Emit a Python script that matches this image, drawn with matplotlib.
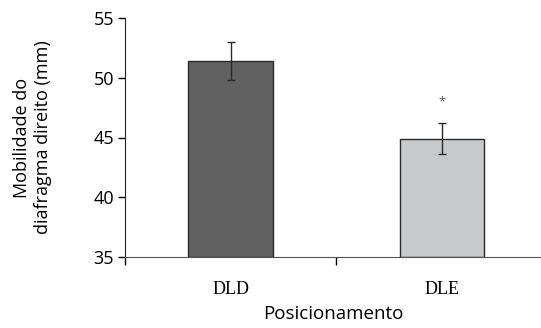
import matplotlib
matplotlib.use('Agg')
from matplotlib import pyplot as plt
import matplotlib.ticker as ticker

plt.rcParams['font.family'] = ['Open Sans', 'DejaVu Sans']

categories = ['DLD', 'DLE']
means = [51.4, 44.9]
errors = [1.6, 1.3]
bar_colors = ['#616161', '#c8c9ca']
star_y = 48.0

fig = plt.figure(figsize=(5.41, 3.28), dpi=100)
ax = fig.add_axes([125 / 541, 71 / 328, 1 - 125 / 541, 239 / 328])

x = list(range(len(categories)))
ax.bar(x, [m - 35 for m in means], bottom=35, width=0.4, color=bar_colors,
       edgecolor='#2a2a2a', linewidth=1.0, zorder=2)
ax.errorbar(x, means, yerr=errors, fmt='none', ecolor='#2a2a2a',
            elinewidth=1.0, capsize=2.8, capthick=1.0, zorder=3)
ax.text(1, star_y, '*', ha='center', va='center', fontsize=9, color='#555555')

ax.set_ylim(35, 55)
ax.set_xlim(-0.5, 1.47)
ax.yaxis.set_major_locator(ticker.MultipleLocator(5))
ax.tick_params(axis='y', direction='out', length=5, width=1, labelsize=13, pad=3)

# category boundary ticks, labels in between
ax.xaxis.set_major_locator(ticker.FixedLocator([-0.5, 0.5, 1.5]))
ax.xaxis.set_major_formatter(ticker.NullFormatter())
ax.xaxis.set_minor_locator(ticker.FixedLocator(x))
ax.xaxis.set_minor_formatter(ticker.FixedFormatter(categories))
ax.tick_params(axis='x', which='major', direction='out', length=6, width=1)
ax.tick_params(axis='x', which='minor', length=0, pad=17)
for lab in ax.xaxis.get_minorticklabels():
    lab.set_fontfamily('Liberation Serif')
    lab.set_fontsize(13)

for s in ['top', 'right']:
    ax.spines[s].set_visible(False)
ax.spines['left'].set_color('#222222')
ax.spines['bottom'].set_color('#555555')

ax.set_ylabel('Mobilidade do\ndiafragma direito (mm)', fontsize=13, labelpad=30,
              linespacing=1.2)
ax.set_xlabel('Posicionamento', fontsize=13.5, labelpad=5)

plt.savefig('out.png', dpi=100)
